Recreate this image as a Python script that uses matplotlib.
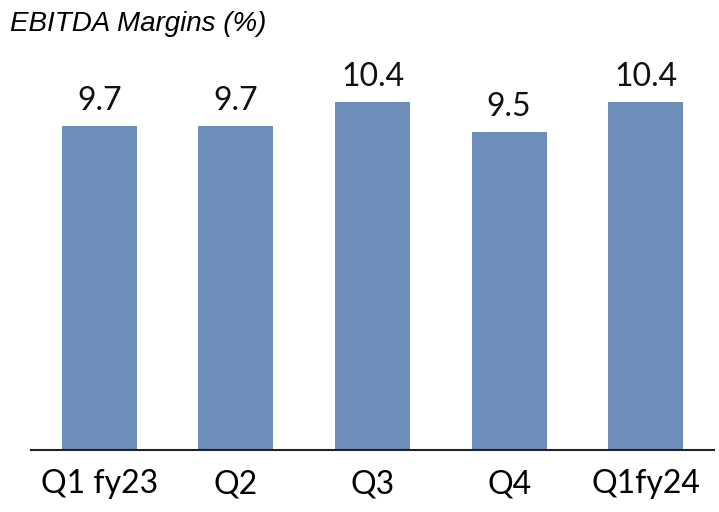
import matplotlib
matplotlib.use("Agg")
import matplotlib.pyplot as plt

categories = ["Q1 fy23", "Q2", "Q3", "Q4", "Q1fy24"]
values = [9.7, 9.7, 10.4, 9.5, 10.4]
value_labels = ["9.7", "9.7", "10.4", "9.5", "10.4"]
title = "EBITDA Margins (%)"

fig = plt.figure(figsize=(7.19, 5.12), dpi=100)
W, H = 719, 512
x0, x1 = 31, 714
yb = 450
scale = 33.45  # px per unit
ax = fig.add_axes([x0 / W, (H - yb) / H, (x1 - x0) / W, (yb - 40) / H])
ymax = (yb - 40) / scale
ax.set_ylim(0, ymax)
ax.set_xlim(-0.5, len(categories) - 0.5)

bars = ax.bar(range(len(categories)), values, width=0.55, color="#6D8EBA")
for i, (v, lab) in enumerate(zip(values, value_labels)):
    ax.text(i, v + 0.3, lab, ha="center", va="bottom", fontsize=23,
            family=["Lato", "DejaVu Sans"], color="#111111")

ax.set_xticks(range(len(categories)))
ax.set_xticklabels(categories, fontsize=23, family=["Lato", "DejaVu Sans"])
ax.tick_params(axis="x", length=0, pad=14)
ax.set_yticks([])
for s in ["top", "right", "left"]:
    ax.spines[s].set_visible(False)
ax.spines["bottom"].set_linewidth(1.5)
ax.spines["bottom"].set_color("#222222")

fig.text(10 / W, 1 - 11 / H, title, ha="left", va="top", fontsize=20,
         style="italic", family=["Liberation Sans", "DejaVu Sans"])

fig.savefig("out.png", dpi=100)
